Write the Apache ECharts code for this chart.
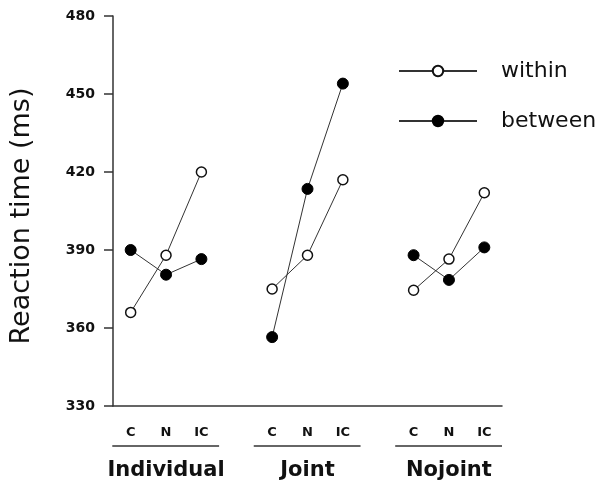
<!DOCTYPE html>
<html>
<head>
<meta charset="utf-8">
<script src="https://cdn.jsdelivr.net/npm/echarts@6/dist/echarts.min.js"></script>
<style>
html,body{margin:0;padding:0;background:#fff;}
#chart{width:603px;height:483px;}
</style>
</head>
<body>
<div id="chart"></div>
<script>
const categories = ['C', 'N', 'IC', '', 'C', 'N', 'IC', '', 'C', 'N', 'IC'];
const groups = ['Individual', 'Joint', 'Nojoint'];
const groupIndices = [[0, 2], [4, 6], [8, 10]];
const withinValues = [366, 388, 420, null, 375, 388, 417, null, 374.5, 386.5, 412];
const betweenValues = [390, 380.5, 386.5, null, 356.5, 413.5, 454, null, 388, 378.5, 391];
const yMin = 330, yMax = 480, yInterval = 30;

const chart = echarts.init(document.getElementById('chart'), null, {renderer: 'canvas'});
const axisColor = '#333';
const option = {
  animation: false,
  backgroundColor: '#fff',
  grid: {left: 111, top: 16, right: 101, bottom: 77, containLabel: false},
  legend: {
    orient: 'vertical',
    left: 393,
    top: 55,
    itemWidth: 78,
    itemHeight: 13,
    itemGap: 28,
    textStyle: {fontFamily: 'DejaVu Sans', fontSize: 22, color: '#111', padding: [0, 0, 0, 19]},
    data: ['within', 'between']
  },
  xAxis: {
    type: 'category',
    data: categories,
    boundaryGap: true,
    axisLine: {lineStyle: {color: axisColor, width: 1.5}},
    axisTick: {
      alignWithLabel: true,
      length: 12,
      lineStyle: {color: axisColor, width: 1.5},
      interval: function (idx, val) { return val !== ''; }
    },
    axisLabel: {
      interval: 0,
      margin: 20,
      fontFamily: 'DejaVu Sans',
      fontWeight: 'bold',
      fontSize: 13,
      color: '#111'
    },
    splitLine: {show: false}
  },
  yAxis: {
    type: 'value',
    min: yMin,
    max: yMax,
    interval: yInterval,
    name: 'Reaction time (ms)',
    nameLocation: 'middle',
    nameGap: 78,
    nameTextStyle: {fontFamily: 'DejaVu Sans', fontSize: 27, color: '#111', padding: [0, 0, 0, -10]},
    axisLine: {show: true, lineStyle: {color: axisColor, width: 1.5}},
    axisTick: {show: true, length: 9, lineStyle: {color: axisColor, width: 1.5}},
    axisLabel: {margin: 18, fontFamily: 'DejaVu Sans', fontWeight: 'bold', fontSize: 14, color: '#111'},
    splitLine: {show: false}
  },
  series: [
    {
      name: 'within',
      type: 'line',
      data: withinValues,
      connectNulls: false,
      symbol: 'circle',
      symbolSize: 10,
      lineStyle: {color: '#333', width: 1},
      itemStyle: {color: '#fff', borderColor: '#111', borderWidth: 1.5},
      z: 3
    },
    {
      name: 'between',
      type: 'line',
      data: betweenValues,
      connectNulls: false,
      symbol: 'circle',
      symbolSize: 11,
      lineStyle: {color: '#333', width: 1},
      itemStyle: {color: '#000', borderColor: '#000', borderWidth: 1},
      z: 2
    }
  ]
};
chart.setOption(option);

// group labels and underlines below the axis
const graphics = [];
const baseY = chart.convertToPixel({yAxisIndex: 0}, yMin);
groups.forEach(function (g, i) {
  const x0 = chart.convertToPixel({xAxisIndex: 0}, groupIndices[i][0]);
  const x1 = chart.convertToPixel({xAxisIndex: 0}, groupIndices[i][1]);
  const step = chart.convertToPixel({xAxisIndex: 0}, 1) - chart.convertToPixel({xAxisIndex: 0}, 0);
  graphics.push({
    type: 'line',
    shape: {x1: x0 - step * 0.52, y1: baseY + 40, x2: x1 + step * 0.5, y2: baseY + 40},
    style: {stroke: axisColor, lineWidth: 1.5}
  });
  graphics.push({
    type: 'text',
    x: (x0 + x1) / 2,
    y: baseY + 65,
    style: {
      text: g,
      fontFamily: 'DejaVu Sans',
      fontWeight: 'bold',
      fontSize: 21,
      fill: '#111',
      align: 'center',
      verticalAlign: 'middle'
    }
  });
});
chart.setOption({graphic: graphics});
</script>
</body>
</html>
